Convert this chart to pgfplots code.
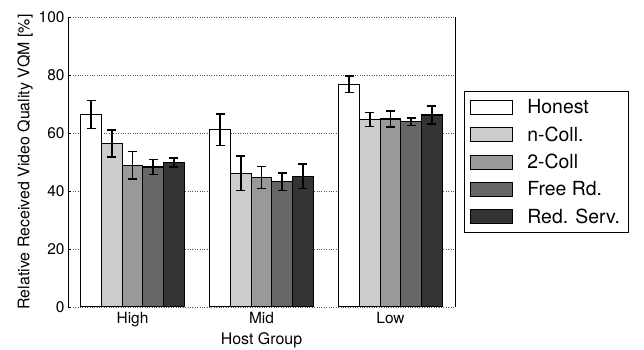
\documentclass[border=0pt]{standalone}
\usepackage{fontspec}
\setmainfont{TeX Gyre Heros}
\usepackage{pgfplots}
\pgfplotsset{compat=1.18}
\definecolor{cA}{gray}{1.0}
\definecolor{cB}{gray}{0.80}
\definecolor{cC}{gray}{0.60}
\definecolor{cD}{gray}{0.40}
\definecolor{cE}{gray}{0.20}
\begin{document}
\begin{tikzpicture}
\begin{axis}[
  scale only axis,
  width=387bp, height=290bp,
  xmin=-0.5, xmax=2.5,
  ymin=0, ymax=100,
  ybar=0pt, bar width=20.7bp,
  xtick={0,1,2}, xticklabels={High,Mid,Low},
  xtick style={draw=none},
  ytick={0,20,40,60,80,100},
  ytick pos=left,
  major tick length=3bp,
  ytick style={black},
  tick align=inside,
  ymajorgrids,
  major grid style={dotted, black!65, line width=0.6pt},
  separate axis lines,
  x axis line style={draw=none},
  y axis line style={black, line width=0.8pt},
  /pgf/number format/assume math mode=true,
  tick label style={font=\fontsize{15.5}{17}\selectfont},
  xticklabel style={yshift=-2bp},
  label style={font=\fontsize{16}{18}\selectfont},
  xlabel={Host Group},
  ylabel={Relative Received Video Quality VQM [\%]},
  xlabel style={yshift=1bp},
  ylabel style={yshift=-1bp},
  legend style={at={(1.023,0.5)}, anchor=west, draw=black, line width=0.8pt,
    font=\fontsize{19.5}{22}\selectfont, row sep=7.5bp, inner xsep=6bp, inner ysep=6bp},
  legend cell align=left,
  legend image code/.code={\draw[#1, line width=1pt] (0bp,-7bp) rectangle (42bp,7bp);
    \path (54bp,0bp);},
  every axis plot/.append style={draw=black, line width=1.2pt,
    error bars/error bar style={line width=1.6pt, black},
    error bars/error mark options={rotate=90, mark size=4.5bp, line width=1.6pt, black}},
]
\addplot[fill=cA, error bars/.cd, y dir=both, y explicit] coordinates {
  (0,66.4) +- (0,4.8) (1,61.1) +- (0,5.4) (2,76.8) +- (0,2.8)};
\addplot[fill=cB, error bars/.cd, y dir=both, y explicit] coordinates {
  (0,56.4) +- (0,4.6) (1,46.1) +- (0,5.9) (2,64.7) +- (0,2.4)};
\addplot[fill=cC, error bars/.cd, y dir=both, y explicit] coordinates {
  (0,48.9) +- (0,4.7) (1,44.7) +- (0,3.8) (2,64.8) +- (0,2.8)};
\addplot[fill=cD, error bars/.cd, y dir=both, y explicit] coordinates {
  (0,48.3) +- (0,2.6) (1,43.2) +- (0,3.0) (2,63.9) +- (0,1.3)};
\addplot[fill=cE, error bars/.cd, y dir=both, y explicit] coordinates {
  (0,49.8) +- (0,1.6) (1,45.1) +- (0,4.2) (2,66.2) +- (0,3.1)};
\legend{Honest, n-Coll., 2-Coll, Free Rd., Red. Serv.}
\end{axis}
\pgfresetboundingbox
\path[use as bounding box] (current axis.south west) ++(-68bp,-43bp) rectangle ++(644bp,350bp);
\end{tikzpicture}
\end{document}
